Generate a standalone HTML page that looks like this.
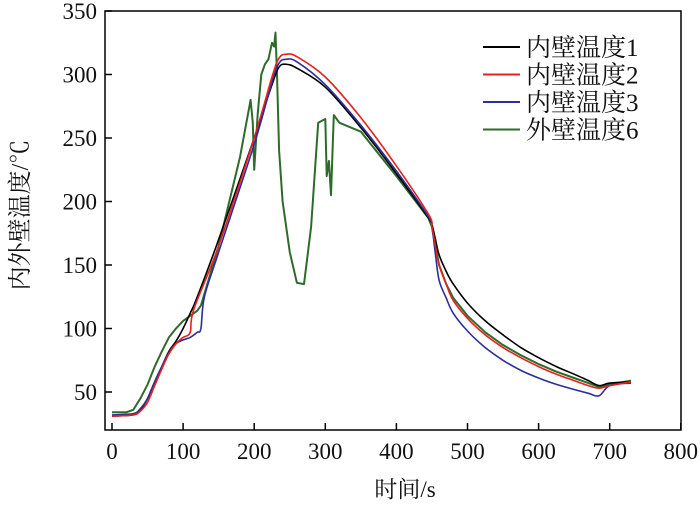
<!DOCTYPE html>
<html><head><meta charset="utf-8"><style>
body{margin:0;background:#fff}
svg text{font-family:"Liberation Serif","Noto Serif CJK SC",serif;fill:#111}
</style></head><body>
<svg id="c" width="700" height="503"></svg>
<script>
const timesBlack=[0,30,40,50,60,70,80,90,100,110,120,150,200,225,235,245,260,300,350,400,445,450,455,460,470,480,500,525,550,575,600,625,650,670,685,700,730];
const valsBlack=[31,32,36,45,58,70,82,90,100,112,125,170,250,292,306,308,305,290,258,222,187,182,170,158,145,135,120,106,95,85,77,70,64,59,55,57,58];
const timesRed=[0,30,40,50,60,70,80,90,100,110,115,150,200,225,235,245,260,300,350,400,445,450,455,460,470,480,500,525,550,575,600,625,650,670,685,700,730];
const valsRed=[31,32,35,42,55,68,80,88,93,97,115,165,250,298,313,316,314,298,266,228,190,180,165,150,135,122,108,95,85,77,70,64,59,55,53,55,58];
const timesBlue=[0,30,40,50,60,70,80,90,100,110,120,125,130,150,200,225,235,245,260,300,350,400,445,450,455,460,470,480,500,525,550,575,600,625,650,670,685,700,730];
const valsBlue=[32,33,37,45,58,70,81,88,91,93,97,100,125,160,245,294,309,312,310,292,260,224,188,180,158,138,124,112,98,85,75,67,61,56,52,49,47,55,57];
const timesGreen=[0,20,30,40,50,60,70,80,90,100,110,120,125,150,180,195,198,200,205,210,215,220,225,228,230,232,235,240,250,260,270,280,290,300,302,305,308,312,320,350,400,445,450,460,470,480,500,525,550,575,600,625,650,670,685,700,730];
const valsGreen=[34,34,36,45,56,70,82,93,100,106,110,114,118,165,235,280,262,225,270,300,308,312,325,322,333,300,240,200,160,136,135,180,262,265,220,232,205,268,262,255,220,187,180,150,135,124,110,97,87,79,72,66,61,57,54,56,59];
const xTicks=[0,100,200,300,400,500,600,700,800];
const yTicks=[50,100,150,200,250,300,350];
const seriesNames=["内壁温度1","内壁温度2","内壁温度3","外壁温度6"];
const colors=["#000","#e8201c","#2b2f9a","#2e6b2a"];

const NS="http://www.w3.org/2000/svg";
const svg=document.getElementById('c');
const X=v=>112+v*0.711;
const Y=v=>11+(350-v)*1.27;
function mk(t,a,p){const e=document.createElementNS(NS,t);for(const k in a)e.setAttribute(k,a[k]);(p||svg).appendChild(e);return e;}
const frame=mk('rect',{x:105,y:11,width:576,height:419,fill:'none',stroke:'#000','stroke-width':1.5});


xTicks.forEach(v=>{
  const l=mk('line',{x1:X(v),x2:X(v),y1:430,y2:423,stroke:'#000','stroke-width':1.5});
  
  
  const t=mk('text',{x:X(v),y:459,'text-anchor':'middle','font-size':23});t.textContent=v;
  
  
});
yTicks.forEach(v=>{
  const l=mk('line',{x1:105,x2:112,y1:Y(v),y2:Y(v),stroke:'#000','stroke-width':1.5});
  
  
  const t=mk('text',{x:97,y:Y(v)+8,'text-anchor':'end','font-size':23});t.textContent=v;
  
  
});
const xt=mk('text',{x:405,y:497,'text-anchor':'middle','font-size':23});xt.textContent='时间/s';


const yt=mk('text',{x:0,y:0,'text-anchor':'middle','font-size':24,transform:'translate(28,215) rotate(-90)'});yt.textContent='内外壁温度/℃';


function smooth(pts){
  let d='M'+pts[0][0].toFixed(1)+','+pts[0][1].toFixed(1);
  for(let i=0;i<pts.length-1;i++){
    const p0=pts[Math.max(0,i-1)],p1=pts[i],p2=pts[i+1],p3=pts[Math.min(pts.length-1,i+2)];
    const c1=[p1[0]+(p2[0]-p0[0])/6,p1[1]+(p2[1]-p0[1])/6];
    const c2=[p2[0]-(p3[0]-p1[0])/6,p2[1]-(p3[1]-p1[1])/6];
    d+='C'+c1[0].toFixed(1)+','+c1[1].toFixed(1)+' '+c2[0].toFixed(1)+','+c2[1].toFixed(1)+' '+p2[0].toFixed(1)+','+p2[1].toFixed(1);
  }
  return d;
}
const data=[[timesBlack,valsBlack],[timesRed,valsRed],[timesBlue,valsBlue],[timesGreen,valsGreen]];
const order=[3,0,2,1];
order.forEach(i=>{
  const [ts,vs]=data[i];
  const pts=ts.map((t,j)=>[X(t),Y(vs[j])]);
  const d=i==3?pts.map((p,j)=>(j?'L':'M')+p[0].toFixed(1)+','+p[1].toFixed(1)).join(''):smooth(pts);
  const p=mk('path',{d:d,fill:'none',stroke:colors[i],'stroke-width':i==3?2:1.6,'stroke-linejoin':'round'});
  
  
});
seriesNames.forEach((n,i)=>{
  const y=47+i*27.5;
  const l=mk('line',{x1:483,x2:520,y1:y,y2:y,stroke:colors[i],'stroke-width':2});
  
  
  const t=mk('text',{x:526,y:y+9,'font-size':25});t.textContent=n;
  
  
});
</script>
</body></html>
